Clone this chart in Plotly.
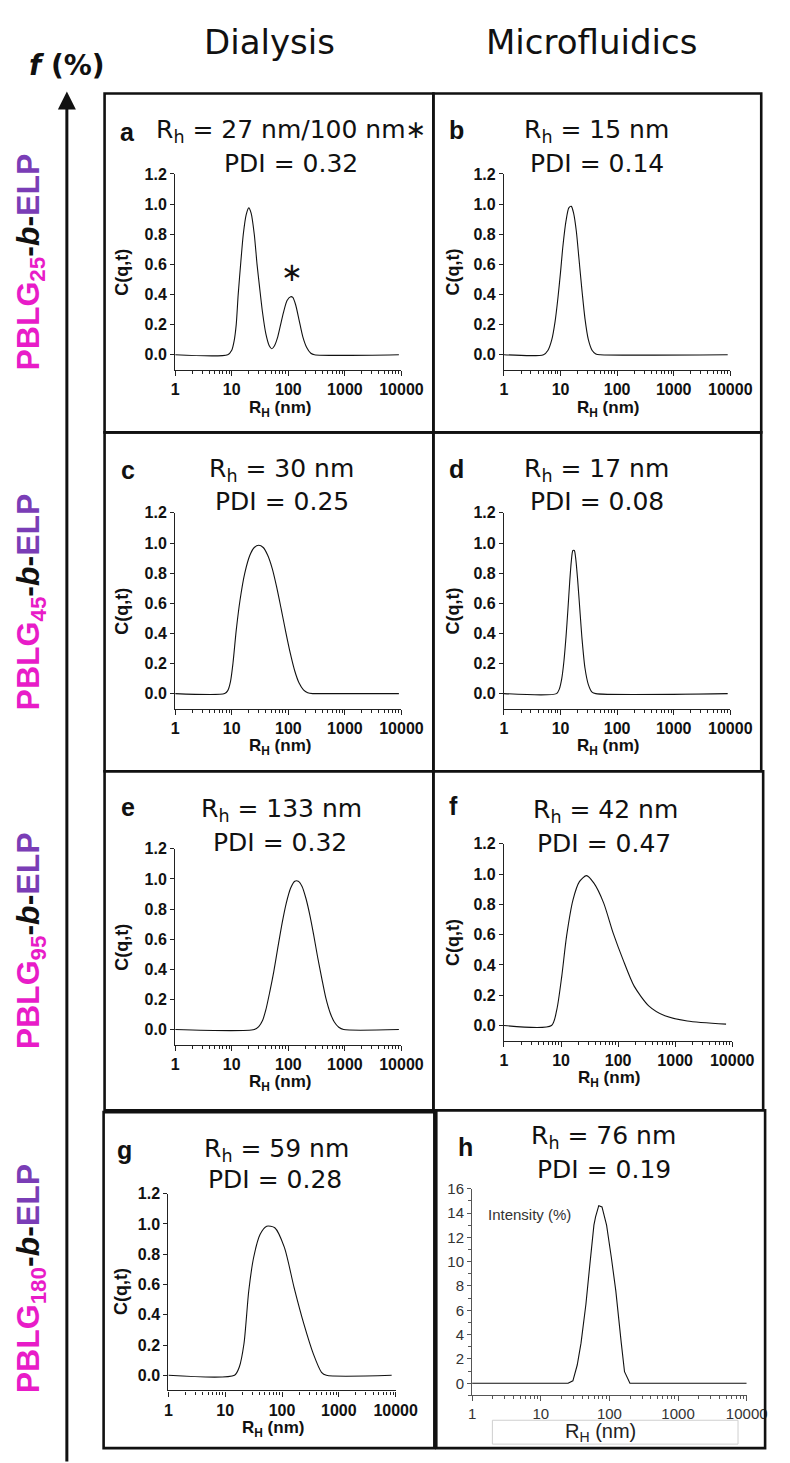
import plotly.graph_objects as go

W, H = 790, 1463

# ---------------- data ----------------
a_r = [1, 8.5, 10, 11, 12, 13, 14.5, 16, 18, 20, 22, 25, 28, 31, 35, 40, 46, 51, 57, 64, 72, 82, 95, 110, 120, 135, 155, 180, 210, 250, 290, 9000]
a_c = [0, 0, 0.03, 0.09, 0.2, 0.4, 0.62, 0.8, 0.93, 0.975, 0.94, 0.8, 0.6, 0.45, 0.28, 0.14, 0.06, 0.04, 0.06, 0.11, 0.19, 0.28, 0.36, 0.385, 0.38, 0.33, 0.23, 0.12, 0.05, 0.01, 0, 0]

b_r = [1, 5, 6, 7, 8, 9, 10, 11, 12.5, 14, 15.5, 17, 19, 21, 24, 27, 31, 36, 42, 50, 9000]
b_c = [0, 0, 0.03, 0.1, 0.22, 0.38, 0.55, 0.72, 0.89, 0.975, 0.985, 0.94, 0.82, 0.65, 0.42, 0.24, 0.1, 0.03, 0.005, 0, 0]

c_r = [1, 7.5, 8.5, 9.5, 10.5, 12, 14, 17, 21, 25, 30, 36, 43, 52, 62, 75, 90, 108, 130, 155, 185, 220, 270, 320, 9000]
c_c = [0, 0, 0.02, 0.08, 0.2, 0.42, 0.62, 0.8, 0.92, 0.97, 0.985, 0.97, 0.92, 0.83, 0.71, 0.56, 0.41, 0.27, 0.15, 0.07, 0.025, 0.006, 0, 0, 0]

d_r = [1, 8.5, 9.5, 10.5, 11.5, 12.5, 13.5, 14.5, 15.5, 16.5, 17.5, 18.5, 20, 22, 24, 27, 31, 36, 42, 9000]
d_c = [0, 0, 0.03, 0.1, 0.22, 0.38, 0.56, 0.74, 0.88, 0.95, 0.95, 0.9, 0.76, 0.55, 0.36, 0.17, 0.06, 0.01, 0, 0]

e_r = [1, 25, 30, 35, 40, 47, 55, 65, 78, 92, 110, 130, 150, 175, 205, 240, 280, 330, 390, 460, 550, 650, 780, 950, 9000]
e_c = [0, 0, 0.02, 0.06, 0.13, 0.25, 0.38, 0.54, 0.71, 0.84, 0.94, 0.985, 0.985, 0.95, 0.87, 0.76, 0.63, 0.48, 0.34, 0.21, 0.11, 0.05, 0.015, 0, 0]

f_r = [1, 6.8, 8.45, 10.3, 12.5, 16.2, 21, 27.9, 37.7, 55.7, 82, 122, 191, 344, 661, 1630, 7800]
f_c = [0, 0, 0.107, 0.326, 0.59, 0.83, 0.95, 0.99, 0.94, 0.81, 0.61, 0.435, 0.26, 0.13, 0.064, 0.03, 0.009]

g_r = [1, 14.6, 17.7, 21.4, 26, 31.7, 41, 53.7, 74.5, 110, 163, 242, 357, 495, 603, 8500]
g_c = [0, 0, 0.055, 0.21, 0.56, 0.78, 0.93, 0.985, 0.975, 0.845, 0.58, 0.34, 0.14, 0.02, 0, 0]

h_r = [1, 25, 29.4, 34, 38.6, 45.5, 52, 59.5, 63, 70, 78, 91, 107, 124, 149, 166, 199, 10000]
h_i = [0, 0, 0.2, 1.5, 3.3, 6.5, 9.8, 13, 13.7, 14.6, 14.5, 13, 10.3, 7.6, 3.3, 0.95, 0, 0]

panel_letters = ["a", "b", "c", "d", "e", "f", "g", "h"]
rh_labels = ["27 nm/100 nm\u2217", "15 nm", "30 nm", "17 nm", "133 nm", "42 nm", "59 nm", "76 nm"]
pdi_labels = ["0.32", "0.14", "0.25", "0.08", "0.32", "0.47", "0.28", "0.19"]
column_titles = ["Dialysis", "Microfluidics"]
row_blocks = ["25", "45", "95", "180"]

x_ticks = [1, 10, 100, 1000, 10000]
x_ticktext = ["1", "10", "100", "1000", "10000"]
x_minor = [m * d for d in (1, 10, 100, 1000) for m in range(2, 10)]
y_ticks = [0, 0.2, 0.4, 0.6, 0.8, 1.0, 1.2]
y_ticktext = ["0.0", "0.2", "0.4", "0.6", "0.8", "1.0", "1.2"]
h_yticks = [0, 2, 4, 6, 8, 10, 12, 14, 16]
h_yminor = [-1, 1, 3, 5, 7, 9, 11, 13, 15]

curves = [(a_r, a_c), (b_r, b_c), (c_r, c_c), (d_r, d_c), (e_r, e_c), (f_r, f_c), (g_r, g_c), (h_r, h_i)]

# ---------------- geometry (pixels) ----------------
geom = [
    dict(x0=177, x1=411, y0=166, y1=363, box=(104, 85, 444, 426), let=(128, 124), rh=(297, 123), pdi=(297, 155), yt=122),
    dict(x0=517, x1=751, y0=166, y1=363, box=(444, 85, 783, 426), let=(468, 122), rh=(613, 123), pdi=(613, 155), yt=464),
    dict(x0=177, x1=411, y0=507, y1=704, box=(104, 426, 444, 767), let=(128, 464), rh=(287, 464), pdi=(287, 496), yt=122),
    dict(x0=517, x1=751, y0=507, y1=704, box=(444, 426, 783, 767), let=(468, 463), rh=(613, 464), pdi=(613, 496), yt=464),
    dict(x0=177, x1=411, y0=845, y1=1042, box=(104, 767, 444, 1108), let=(128, 803), rh=(287, 806), pdi=(285, 839), yt=122),
    dict(x0=517, x1=753, y0=840, y1=1038, box=(444, 767, 785, 1108), let=(465, 802), rh=(622, 807), pdi=(620, 840), yt=464),
    dict(x0=170, x1=405, y0=1192, y1=1390, box=(103, 1110, 445, 1448), let=(125, 1148), rh=(282, 1148), pdi=(280, 1178), yt=121),
    dict(x0=484, x1=768, y0=1187, y1=1395, box=(447, 1108, 787, 1448), let=(477, 1145), rh=(620, 1135), pdi=(620, 1168), yt=None),
]


def px(x):
    return x / W


def py(y):
    return 1 - y / H


BOLD_ARIAL = dict(family="Liberation Sans, Arial", color="#111111", weight="bold")
HEAD = "DejaVu Sans"

fig = go.Figure()
annotations = []
shapes = []
layout = {}

for i, g in enumerate(geom):
    n = i + 1
    xa = "x" if n == 1 else f"x{n}"
    ya = "y" if n == 1 else f"y{n}"
    r, v = curves[i]
    is_h = (i == 7)
    fig.add_trace(go.Scatter(
        x=r, y=v, xaxis=xa, yaxis=ya, mode="lines",
        line=dict(color="#111111", width=1.1, shape="linear" if is_h else "spline", smoothing=0.7),
        showlegend=False, hoverinfo="skip"))

    xdom = [px(g["x0"]), px(g["x1"])]
    ydom = [py(g["y1"]), py(g["y0"])]
    axcol = "#555555" if is_h else "#222222"
    if is_h:
        tfont = dict(family="Liberation Sans, Arial", size=15, color="#333333")
    else:
        tfont = dict(BOLD_ARIAL, size=16)
    layout["xaxis" if n == 1 else f"xaxis{n}"] = dict(
        type="log", range=[0, 4], domain=xdom, anchor=ya,
        showline=True, linecolor=axcol, linewidth=1.3 if not is_h else 1.1,
        ticks="outside", ticklen=5, tickwidth=1.2, tickcolor=axcol,
        tickmode="array", tickvals=x_ticks, ticktext=x_ticktext, tickfont=tfont,
        showgrid=False, zeroline=False, fixedrange=True,
        minor=dict(tickmode="array", tickvals=x_minor, ticks="outside", ticklen=3,
                   tickwidth=1, tickcolor=axcol, showgrid=False))
    if is_h:
        ycfg = dict(range=[-1, 16], tickmode="array", tickvals=h_yticks,
                    ticktext=[str(t) for t in h_yticks],
                    minor=dict(tickmode="array", tickvals=h_yminor, ticks="outside",
                               ticklen=3, tickwidth=1, tickcolor=axcol, showgrid=False))
    else:
        ycfg = dict(range=[-0.1, 1.2], tickmode="array", tickvals=y_ticks, ticktext=y_ticktext)
    layout["yaxis" if n == 1 else f"yaxis{n}"] = dict(
        domain=ydom, anchor=xa, showline=True, linecolor=axcol,
        linewidth=1.3 if not is_h else 1.1,
        ticks="outside", ticklen=4, tickwidth=1.2, tickcolor=axcol, tickfont=tfont,
        showgrid=False, zeroline=False, fixedrange=True, **ycfg)

    # panel box
    bx0, by0, bx1, by1 = g["box"]
    shapes.append(dict(type="rect", xref="paper", yref="paper",
                       x0=px(bx0), x1=px(bx1), y0=py(by1), y1=py(by0),
                       line=dict(color="#111111", width=2.6), fillcolor="rgba(0,0,0,0)", layer="above"))

    # panel letter
    annotations.append(dict(text=panel_letters[i], x=px(g["let"][0]), y=py(g["let"][1]),
                            xref="paper", yref="paper", showarrow=False,
                            font=dict(BOLD_ARIAL, size=25), xanchor="center", yanchor="middle"))
    # R_h / PDI lines
    annotations.append(dict(text="R<sub>h</sub> = " + rh_labels[i], x=px(g["rh"][0]), y=py(g["rh"][1]),
                            xref="paper", yref="paper", showarrow=False,
                            font=dict(family=HEAD, size=25, color="#111111"),
                            xanchor="center", yanchor="middle"))
    annotations.append(dict(text="PDI = " + pdi_labels[i], x=px(g["pdi"][0]), y=py(g["pdi"][1]),
                            xref="paper", yref="paper", showarrow=False,
                            font=dict(family=HEAD, size=25, color="#111111"),
                            xanchor="center", yanchor="middle"))

    xc = (g["x0"] + g["x1"]) / 2 - 9
    if is_h:
        annotations.append(dict(text="R<sub>H</sub> (nm)", x=px(617), y=py(1432),
                                xref="paper", yref="paper", showarrow=False,
                                font=dict(family="Liberation Sans, Arial", size=20, color="#222222"),
                                xanchor="center", yanchor="middle"))
        shapes.append(dict(type="rect", xref="paper", yref="paper",
                           x0=px(505), x1=px(759), y0=py(1444), y1=py(1420),
                           line=dict(color="#cfcfcf", width=1)))
        annotations.append(dict(text="Intensity (%)", x=px(543), y=py(1213),
                                xref="paper", yref="paper", showarrow=False,
                                font=dict(family="Liberation Sans, Arial", size=15, color="#333333"),
                                xanchor="center", yanchor="middle"))
    else:
        annotations.append(dict(text="R<sub>H</sub> (nm)", x=px(xc), y=py(g["y1"] + 39),
                                xref="paper", yref="paper", showarrow=False,
                                font=dict(BOLD_ARIAL, size=17), xanchor="center", yanchor="middle"))
        annotations.append(dict(text="C(q,t)", x=px(g["yt"]), y=py((g["y0"] + g["y1"]) / 2),
                                xref="paper", yref="paper", showarrow=False, textangle=-90,
                                font=dict(BOLD_ARIAL, size=18), xanchor="center", yanchor="middle"))

# asterisk over the second peak in panel a
annotations.append(dict(text="\u2217", x=2.07, y=0.55, xref="x", yref="y", showarrow=False,
                        font=dict(family=HEAD, size=26, color="#111111"),
                        xanchor="center", yanchor="middle"))

# column titles
for t, xc in zip(column_titles, (275, 608)):
    annotations.append(dict(text=t, x=px(xc), y=py(33), xref="paper", yref="paper", showarrow=False,
                            font=dict(family=HEAD, size=34, color="#111111"),
                            xanchor="center", yanchor="middle"))

# f (%) label
annotations.append(dict(text="<b><i>f</i> (%)</b>", x=px(65), y=py(57), xref="paper", yref="paper",
                        showarrow=False, font=dict(family="DejaVu Sans", size=28, color="#111111"),
                        xanchor="center", yanchor="middle"))

# vertical arrow
annotations.append(dict(text="", x=px(65), y=py(83), xref="paper", yref="paper",
                        ax=0, ay=1400, axref="pixel", ayref="pixel", showarrow=True,
                        arrowhead=2, arrowsize=1.2, arrowwidth=3, arrowcolor="#111111"))

# row labels
for blk, yc in zip(row_blocks, (255, 597, 938, 1278)):
    txt = ("<span style='color:#e81cc8'>PBLG<sub>" + blk + "</sub></span>-<i>b</i>-"
           "<span style='color:#7a3db6'>ELP</span>")
    annotations.append(dict(text=txt, x=px(27), y=py(yc), xref="paper", yref="paper", showarrow=False,
                            textangle=-90, font=dict(BOLD_ARIAL, size=32),
                            xanchor="center", yanchor="middle"))

fig.update_layout(
    width=W, height=H, margin=dict(l=0, r=0, t=0, b=0),
    paper_bgcolor="white", plot_bgcolor="white",
    annotations=annotations, shapes=shapes, **layout)

fig.write_html("out.html", config={"displayModeBar": False},
               post_script="document.body.style.margin='0';document.body.style.overflow='hidden';")
